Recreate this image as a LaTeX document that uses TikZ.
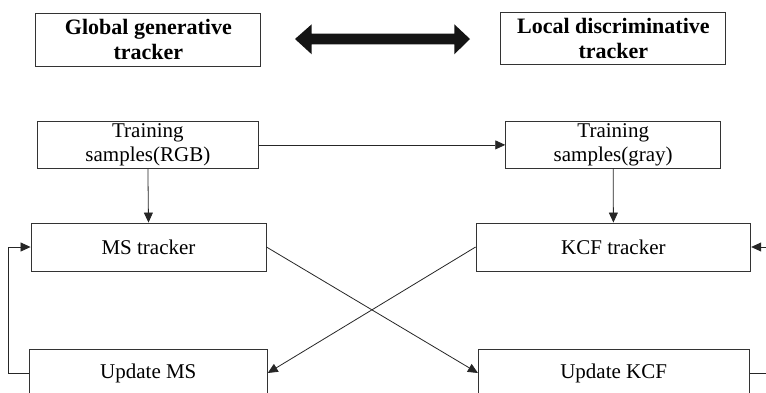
\documentclass[tikz,border=0pt]{standalone}
\usepackage{fontspec}
\setmainfont{Liberation Serif}
\usetikzlibrary{arrows.meta}
\tikzset{
  box/.style={draw=black!80, line width=0.9pt, rectangle, inner sep=0pt, align=center,
    font=\fontsize{21}{23.5}\selectfont},
  topbox/.style={box, font=\fontsize{22}{25}\selectfont\bfseries},
  conn/.style={draw=black!85, line width=0.8pt, -{Triangle[length=10pt,width=9pt]}},
  plain/.style={draw=black!85, line width=0.8pt}
}
\begin{document}
\begin{tikzpicture}[x=1pt,y=-1pt]
\useasboundingbox (0,0) rectangle (766,392);
\fill[white] (0,0) rectangle (766,392);
% top boxes
\node[topbox, minimum width=225pt, minimum height=53pt] (glob) at (148.4,39.5) {Global generative\\tracker};
\node[topbox, minimum width=225pt, minimum height=52pt] (loc) at (613.4,38) {Local discriminative\\tracker};
% double arrow
\coordinate (dal) at (295,39);
\coordinate (dar) at (470,39);
\fill[black!92] (dal) -- (311.7,24.3) -- (311.7,33.5) -- (454.3,33.5) -- (454.3,24.3) -- (dar)
  -- (454.3,54.3) -- (454.3,44.3) -- (311.7,44.3) -- (311.7,54.3) -- cycle;
% main boxes
\node[box, minimum width=220.3pt, minimum height=46.3pt] (rgb) at (147.9,144.9) {Training\\samples(RGB)};
\node[box, minimum width=215pt, minimum height=46.3pt] (gray) at (613.2,144.9) {Training\\samples(gray)};
\node[box, minimum width=235pt, minimum height=48pt] (ms) at (148.5,247) {MS tracker};
\node[box, minimum width=274.7pt, minimum height=48pt] (kcf) at (613.4,247) {KCF tracker};
\node[box, minimum width=238pt, minimum height=48pt] (ums) at (148.3,373) {Update MS};
\node[box, minimum width=270.7pt, minimum height=48pt] (ukcf) at (613.7,373) {Update KCF};
% connectors
\draw[conn] (rgb.east) -- (gray.west);
\draw[conn] (rgb.south) -- (ms.north);
\draw[conn] (gray.south) -- (kcf.north);
\draw[conn] (ms.east) -- (ukcf.west);
\draw[conn] (kcf.west) -- (ums.east);
\coordinate (lb) at (8.3,373);
\coordinate (lt) at (8.3,247);
\draw[conn] (ums.west) -- (lb) -- (lt) -- (ms.west);
\coordinate (rb) at (778,373);
\coordinate (rt) at (778,247);
\draw[conn] (ukcf.east) -- (rb) -- (rt) -- (kcf.east);
\end{tikzpicture}
\end{document}
